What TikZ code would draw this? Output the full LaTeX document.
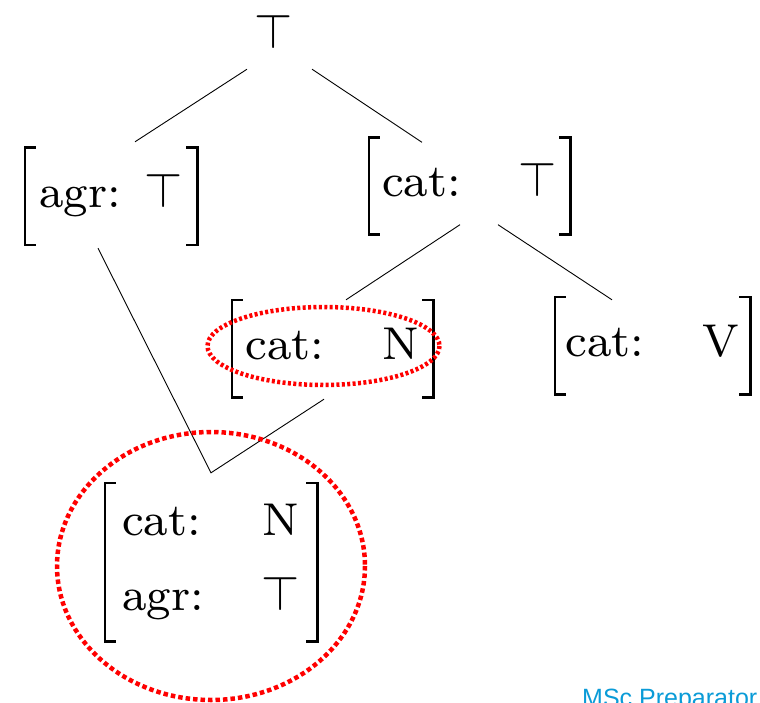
\documentclass[tikz,border=0pt]{standalone}
\usepackage{graphicx}
\usepackage{fontspec}
\setmainfont{lmroman8-regular}[Extension=.otf]
\newfontfamily\footfont{Liberation Sans}
\usetikzlibrary{positioning,calc}
\definecolor{mscblue}{RGB}{10,155,215}
% the top symbol, blown up to the size of the text
\newcommand{\topv}{\scalebox{4.9}{\fontsize{10}{12}\selectfont$\top$}}
% one-line feature structure: attribute, gap, value
\newcommand{\avm}[2]{\begin{tabular}{@{}l@{\hspace{58pt}}c@{}}#1 & #2\end{tabular}}

\begin{document}
\begin{tikzpicture}[x=1pt, y=-1pt,
  every node/.style={font=\fontsize{46}{55}\selectfont, inner sep=0pt},
  fs/.style={minimum width=#1, minimum height=97pt},
  brk/.style={line width=2.6pt},
  edge/.style={line width=0.9pt},
  hilite/.style={red, line width=4.5pt, dash pattern=on 3pt off 2.4pt},
]
  \useasboundingbox (0,0) rectangle (760,703);

  % root and the feature structures below it
  \node (top) at (274,31) {\topv};
  \node[fs=172pt] (agr)  at (111,196.5) {\begin{tabular}{@{}l@{\hspace{24pt}}c@{}}agr: & \topv\end{tabular}};
  \node[fs=201pt] (catT) at (469.5,186) {\avm{cat:}{\topv}};
  \node[fs=201pt] (catN) at (332.5,348.5) {\avm{cat:}{N}};
  \node[fs=195pt] (catV) at (652.5,345.5) {\avm{cat:}{V}};
  \node[minimum width=212pt, minimum height=158pt] (shared) at (211,562)
    {\begin{tabular}{@{}l@{\hspace{58pt}}c@{}}cat: & N\\[20pt] agr: & \topv\end{tabular}};

  % square brackets round each structure
  \foreach \n in {agr,catT,catN,catV,shared}{
    \draw[brk] ($(\n.north west)+(11,0)$) -- (\n.north west) -- (\n.south west) -- ($(\n.south west)+(11,0)$);
    \draw[brk] ($(\n.north east)+(-11,0)$) -- (\n.north east) -- (\n.south east) -- ($(\n.south east)+(-11,0)$);
  }

  % tree edges
  \draw[edge] ($(top.south)+(-27,21)$) -- ($(agr.north)+(24,-6)$);
  \draw[edge] ($(top.south)+(38,21)$) -- ($(catT.north)+(-47.5,5)$);
  \draw[edge] ($(catT.south)+(-9.5,-10)$) -- ($(catN.north)+(13.5,0)$);
  \draw[edge] ($(catT.south)+(28.5,-10)$) -- ($(catV.north)+(-40.5,3)$);
  % shared value: two parents meet above it
  \draw[edge] ($(agr.south)+(-13,3)$) -- ($(shared.north)+(0,-10)$) -- ($(catN.south)+(-8.5,2)$);

  % red dotted highlights
  \draw[hilite] ($(catN.center)+(-9,-2.5)$) ellipse [x radius=116, y radius=39];
  \draw[hilite, dash pattern=on 4.5pt off 3pt] ($(shared.center)+(0,4)$) ellipse [x radius=154, y radius=134];

  \node[font=\footfont\fontsize{25}{29}\selectfont, text=mscblue, anchor=base west] (msc) at (582,706) {MSc Preparator};
\end{tikzpicture}
\end{document}
